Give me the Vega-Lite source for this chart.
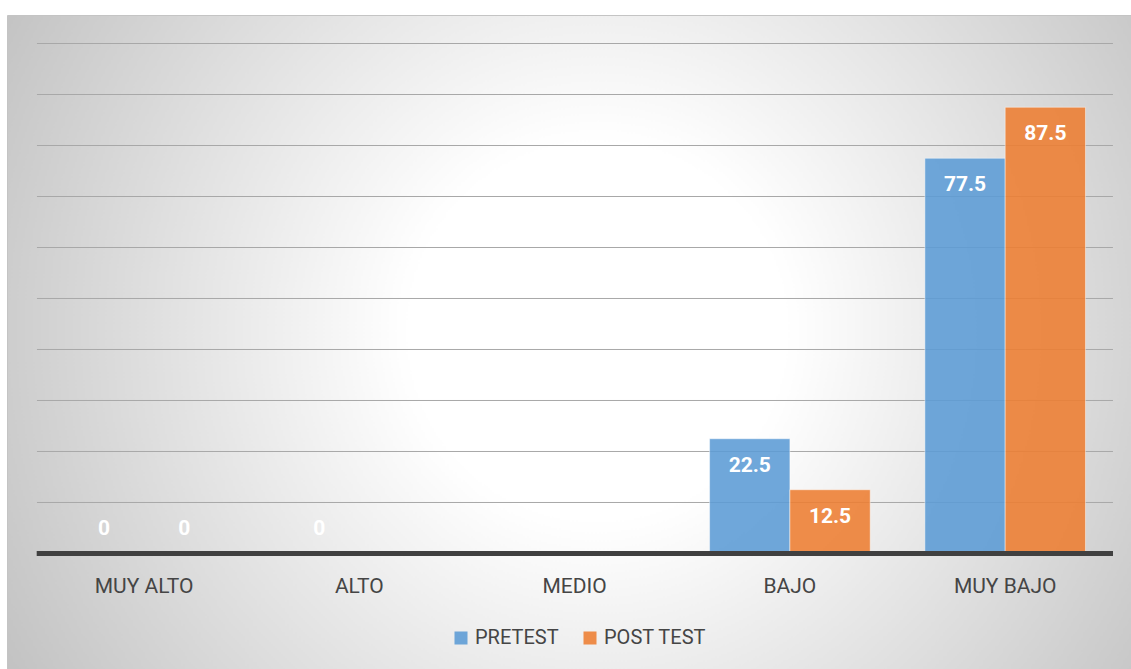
{
  "$schema": "https://vega.github.io/schema/vega-lite/v6.json",
  "width": 1124,
  "height": 654,
  "autosize": {"type": "none"},
  "padding": {"left": 7, "top": 15, "right": 0, "bottom": 0},
  "background": "#ffffff",
  "view": {
    "stroke": "#c4c4c4",
    "strokeWidth": 1,
    "fill": {
      "gradient": "radial",
      "x1": 0.525, "y1": 0.49, "r1": 0,
      "x2": 0.525, "y2": 0.49, "r2": 0.62,
      "stops": [
        {"offset": 0, "color": "#ffffff"},
        {"offset": 0.27, "color": "#ffffff"},
        {"offset": 1, "color": "#c0c0c0"}
      ]
    }
  },
  "config": {
    "font": "Roboto",
    "text": {"font": "Roboto"}
  },
  "datasets": {
    "bars": [
      {"nivel": "MUY ALTO", "prueba": "PRETEST", "valor": 0},
      {"nivel": "MUY ALTO", "prueba": "POST TEST", "valor": 0},
      {"nivel": "ALTO", "prueba": "PRETEST", "valor": 0},
      {"nivel": "BAJO", "prueba": "PRETEST", "valor": 22.5},
      {"nivel": "BAJO", "prueba": "POST TEST", "valor": 12.5},
      {"nivel": "MUY BAJO", "prueba": "PRETEST", "valor": 77.5},
      {"nivel": "MUY BAJO", "prueba": "POST TEST", "valor": 87.5}
    ],
    "grid": [
      {"v": 10}, {"v": 20}, {"v": 30}, {"v": 40}, {"v": 50},
      {"v": 60}, {"v": 70}, {"v": 80}, {"v": 90}, {"v": 100}
    ]
  },
  "layer": [
    {
      "data": {"name": "grid"},
      "mark": {"type": "rule", "color": "#a8a8a8", "strokeWidth": 1},
      "encoding": {
        "y": {"field": "v", "type": "quantitative", "scale": {"domain": [-22.65, 105.59], "nice": false, "zero": false}, "axis": null},
        "x": {"datum": "MUY ALTO", "type": "nominal", "bandPosition": -0.167},
        "x2": {"datum": "MUY BAJO", "bandPosition": 1.171}
      }
    },
    {
      "data": {"name": "bars"},
      "mark": {"type": "bar", "fillOpacity": 0.88, "stroke": "#ffffff", "strokeOpacity": 0.45, "strokeWidth": 1},
      "encoding": {
        "x": {
          "field": "nivel", "type": "nominal",
          "scale": {"domain": ["MUY ALTO", "ALTO", "MEDIO", "BAJO", "MUY BAJO"], "paddingInner": 0.254, "paddingOuter": 0.2376, "align": 0.555},
          "axis": {"title": null, "orient": "bottom", "offset": -83, "labelPadding": 0, "ticks": false, "tickSize": 0, "domain": false, "grid": false, "labelAngle": 0, "labelAlign": "center", "bandPosition": 0.5, "labelFont": "Roboto", "labelFontSize": 21, "labelColor": "#454545"}
        },
        "xOffset": {"field": "prueba", "type": "nominal", "scale": {"domain": ["PRETEST", "POST TEST"], "paddingInner": 0, "paddingOuter": 0}},
        "y": {"field": "valor", "type": "quantitative"},
        "y2": {"datum": 0},
        "color": {
          "field": "prueba", "type": "nominal",
          "scale": {"domain": ["PRETEST", "POST TEST"], "range": ["#5b9bd5", "#ed7d31"]},
          "legend": {
            "title": null, "orient": "none", "direction": "horizontal",
            "legendX": 444, "legendY": 613,
            "symbolType": "square", "symbolSize": 169, "symbolStrokeWidth": 0, "symbolOpacity": 0.88,
            "labelFont": "Roboto", "labelFontSize": 20, "labelColor": "#454545",
            "labelOffset": 4, "columnPadding": 21
          }
        }
      }
    },
    {
      "data": {"name": "bars"},
      "mark": {"type": "rule", "color": "#404040", "strokeWidth": 5},
      "encoding": {
        "y": {"datum": 0, "type": "quantitative"},
        "x": {"datum": "MUY ALTO", "type": "nominal", "bandPosition": -0.167},
        "x2": {"datum": "MUY BAJO", "bandPosition": 1.171}
      }
    },
    {
      "data": {"name": "bars"},
      "transform": [{"filter": "datum.valor > 0"}],
      "mark": {"type": "text", "color": "#ffffff", "fontWeight": "bold", "fontSize": 21, "baseline": "middle", "align": "center", "dy": 27},
      "encoding": {
        "x": {"field": "nivel", "type": "nominal"},
        "xOffset": {"field": "prueba", "type": "nominal"},
        "y": {"field": "valor", "type": "quantitative"},
        "text": {"field": "valor", "type": "quantitative"}
      }
    },
    {
      "data": {"name": "bars"},
      "transform": [{"filter": "datum.valor == 0"}],
      "mark": {"type": "text", "color": "#ffffff", "fontWeight": "bold", "fontSize": 21, "baseline": "middle", "align": "center", "dy": -24},
      "encoding": {
        "x": {"field": "nivel", "type": "nominal"},
        "xOffset": {"field": "prueba", "type": "nominal"},
        "y": {"field": "valor", "type": "quantitative"},
        "text": {"field": "valor", "type": "quantitative"}
      }
    }
  ]
}
